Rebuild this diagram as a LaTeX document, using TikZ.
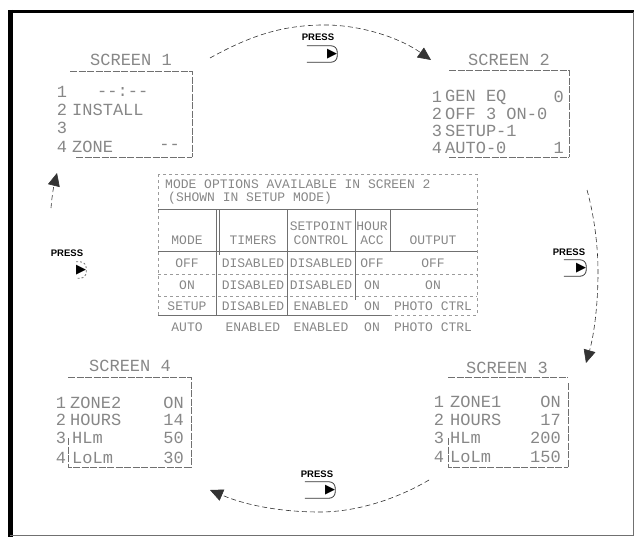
\documentclass[tikz,border=0pt]{standalone}
\usepackage{fontspec}
\usepackage{tikz}
\usetikzlibrary{arrows.meta,positioning}
\newfontfamily\lcdfont{Liberation Mono}
\newfontfamily\pressfont{Liberation Sans}
\newfontfamily\symfont{DejaVu Sans}
\definecolor{scrInk}{HTML}{878787}
\definecolor{scrLine}{HTML}{707070}
\definecolor{scrDark}{HTML}{333333}
\tikzset{
  scrtitle/.style={font=\lcdfont\fontsize{17}{17}\selectfont,text=scrInk,
                   inner sep=0pt},
  scrnum/.style={scrtitle,anchor=center},
  scrrow/.style={scrtitle,anchor=west},
  scrval/.style={scrtitle,anchor=east},
  scrline/.style={scrLine,line width=0.8pt,dash pattern=on 7pt off 1.5pt},
  tbtext/.style={font=\lcdfont\fontsize{13}{13}\selectfont,text=scrInk,
                 inner sep=0pt},
  tbtitle/.style={tbtext,font=\lcdfont\fontsize{13}{13}\selectfont,anchor=west},
  tbline/.style={scrLine,line width=0.8pt},
  tbfaint/.style={scrLine!70,line width=0.6pt,dash pattern=on 3pt off 3pt},
  presslabel/.style={font=\pressfont\bfseries\fontsize{9.5}{9.5}\selectfont,
                     inner sep=0pt},
  pressbtn/.style={font=\symfont\fontsize{13}{13}\selectfont,inner sep=0pt,
                   minimum height=16pt,align=right},
  btnline/.style={scrDark,line width=0.8pt,rounded corners=6pt},
  cycarrow/.style={-{Triangle[length=13pt,width=12pt]},line width=0.6pt,
                   dash pattern=on 5pt off 3pt,scrDark}
}
\begin{document}
\begin{tikzpicture}[x=1pt,y=-1pt]
  \useasboundingbox (0,0) rectangle (636,538);
  % frame
  \draw[line width=3.5pt] (8,11.5) -- (634,11.5);
  \draw[line width=5pt] (10,9.75) -- (10,537);
  \draw[line width=0.8pt,scrLine] (633,11.5) -- (633,535.5) -- (10,535.5);

  % screen 1
  \node[scrtitle] (s1title) at (131,60) {SCREEN 1};
  \draw[scrline] (70,71) -- (192,71) -- (192,157);
  \draw[scrline] (76,157) -- (192,157);
  \node[scrnum] (s1n1) at (62,92) {1};
  \node[scrnum] (s1n2) at (62,110) {2};
  \node[scrnum] (s1n3) at (62,128) {3};
  \node[scrnum] (s1n4) at (62,147) {4};
  \node[scrrow] (s1r1) at (97,92) {--:--};
  \node[scrrow] (s1r2) at (72,110) {INSTALL};
  \node[scrrow] (s1r4) at (72,147) {ZONE};
  \node[scrval] (s1v4) at (180,147) {--};

  % screen 2
  \node[scrtitle] (s2title) at (509,60) {SCREEN 2};
  \draw[scrline] (449,70) -- (569,70) -- (569,157);
  \draw[scrline] (449,157) -- (569,157);
  \node[scrnum] (s2n1) at (437,97) {1};
  \node[scrnum] (s2n2) at (437,114) {2};
  \node[scrnum] (s2n3) at (437,131) {3};
  \node[scrnum] (s2n4) at (437,148) {4};
  \node[scrrow] (s2r1) at (445,97) {GEN EQ};
  \node[scrrow] (s2r2) at (445,114) {OFF 3 ON-0};
  \node[scrrow] (s2r3) at (445,131) {SETUP-1};
  \node[scrrow] (s2r4) at (445,148) {AUTO-0};
  \node[scrval] (s2v1) at (564,97) {0};
  \node[scrval] (s2v4) at (564,148) {1};

  % screen 3
  \node[scrtitle] (s3title) at (507,368) {SCREEN 3};
  \draw[scrline] (448,377) -- (568,377);
  \draw[scrline] (568,383) -- (568,467);
  \draw[scrline] (448,438) -- (448,467) -- (568,467);
  \node[scrnum] (s3n1) at (439,402) {1};
  \node[scrnum] (s3n2) at (439,420) {2};
  \node[scrnum] (s3n3) at (439,438) {3};
  \node[scrnum] (s3n4) at (439,457) {4};
  \node[scrrow] (s3r1) at (450,402) {ZONE1};
  \node[scrrow] (s3r2) at (450,420) {HOURS};
  \node[scrrow] (s3r3) at (450,438) {HLm};
  \node[scrrow] (s3r4) at (450,457) {LoLm};
  \node[scrval] (s3v1) at (561,402) {ON};
  \node[scrval] (s3v2) at (561,420) {17};
  \node[scrval] (s3v3) at (561,438) {200};
  \node[scrval] (s3v4) at (561,457) {150};

  % screen 4
  \node[scrtitle] (s4title) at (130,366) {SCREEN 4};
  \draw[scrline] (68,377) -- (191,377) -- (191,467);
  \draw[scrline] (68,438) -- (68,467) -- (191,467);
  \node[scrnum] (s4n1) at (61,403) {1};
  \node[scrnum] (s4n2) at (61,420) {2};
  \node[scrnum] (s4n3) at (61,438) {3};
  \node[scrnum] (s4n4) at (61,458) {4};
  \node[scrrow] (s4r1) at (70,403) {ZONE2};
  \node[scrrow] (s4r2) at (70,420) {HOURS};
  \node[scrrow] (s4r3) at (72,438) {HLm};
  \node[scrrow] (s4r4) at (72,458) {LoLm};
  \node[scrval] (s4v1) at (184,403) {ON};
  \node[scrval] (s4v2) at (184,420) {14};
  \node[scrval] (s4v3) at (184,438) {50};
  \node[scrval] (s4v4) at (184,458) {30};

  % mode table
  \draw[tbfaint] (158,174) rectangle (477,315);
  \draw[tbline] (158,209) -- (477,209);
  \draw[tbline] (158,251) -- (477,251);
  \draw[tbfaint] (158,274) -- (477,274);
  \draw[tbfaint] (158,296) -- (477,296);
  \draw[tbline] (158,315) -- (390,315);
  \draw[tbline] (216,209) -- (216,315);
  \draw[tbline] (219,209) -- (219,255);
  \draw[tbline] (287,209) -- (287,315);
  \draw[tbline] (355,209) -- (355,300);
  \draw[tbline] (390,209) -- (390,251);
  \node[tbtitle] (tbcap1) at (165,184) {MODE OPTIONS AVAILABLE IN SCREEN 2};
  \node[tbtitle] (tbcap2) at (168,198) {(SHOWN IN SETUP MODE)};
  \node[tbtext] (hmode) at (187,240) {MODE};
  \node[tbtext] (htime) at (253,240) {TIMERS};
  \node[tbtext] (hset1) at (321,226) {SETPOINT};
  \node[tbtext] (hset2) at (321,240) {CONTROL};
  \node[tbtext] (hhour1) at (372,226) {HOUR};
  \node[tbtext] (hhour2) at (372,240) {ACC};
  \node[tbtext] (hout) at (433,240) {OUTPUT};
  \node[tbtext] (moff) at (187,263) {OFF};
  \node[tbtext] (toff) at (253,263) {DISABLED};
  \node[tbtext] (soff) at (321,263) {DISABLED};
  \node[tbtext] (aoff) at (372,263) {OFF};
  \node[tbtext] (ooff) at (433,263) {OFF};
  \node[tbtext] (mon) at (187,285) {ON};
  \node[tbtext] (ton) at (253,285) {DISABLED};
  \node[tbtext] (son) at (321,285) {DISABLED};
  \node[tbtext] (aon) at (372,285) {ON};
  \node[tbtext] (oon) at (433,285) {ON};
  \node[tbtext] (msetup) at (187,306) {SETUP};
  \node[tbtext] (tsetup) at (253,306) {DISABLED};
  \node[tbtext] (ssetup) at (321,306) {ENABLED};
  \node[tbtext] (asetup) at (372,306) {ON};
  \node[tbtext] (osetup) at (433,306) {PHOTO CTRL};
  \node[tbtext] (mauto) at (187,327) {AUTO};
  \node[tbtext] (tauto) at (253,327) {ENABLED};
  \node[tbtext] (sauto) at (321,327) {ENABLED};
  \node[tbtext] (aauto) at (372,327) {ON};
  \node[tbtext] (oauto) at (433,327) {PHOTO CTRL};

  % press buttons
  \node[presslabel] (ptop) at (318,37) {PRESS};
  \node[pressbtn,text width=30pt] (btop) at (322,54) {▶};
  \draw[btnline] (btop.north west) -- (btop.north east) -- (btop.south east)
    -- (btop.south west);
  \node[presslabel] (prgt) at (569,252) {PRESS};
  \node[pressbtn,text width=22pt] (brgt) at (575,268) {▶};
  \draw[btnline] (brgt.north west) -- (brgt.north east) -- (brgt.south east)
    -- (brgt.south west);
  \node[presslabel] (pbot) at (317,474) {PRESS};
  \node[pressbtn,text width=30pt] (bbot) at (320,490) {▶};
  \draw[btnline] (bbot.north west) -- (bbot.north east) -- (bbot.south east)
    -- (bbot.south west);
  \node[presslabel] (plft) at (67,253) {PRESS};
  \node[pressbtn,text width=20pt] (blft) at (76,270) {▶};
  \draw[btnline,scrLine,dash pattern=on 2pt off 2pt] (blft.north)
    -- (blft.north east) -- (blft.south east) -- (blft.south);

  % cycle arrows
  \coordinate (topA) at (210,58);
  \coordinate (topB) at (431,60);
  \coordinate (rgtA) at (587,190);
  \coordinate (rgtB) at (586,363);
  \coordinate (botA) at (429,480);
  \coordinate (botB) at (210,490);
  \coordinate (lftA) at (51,208);
  \coordinate (lftB) at (57,173);
  \draw[cycarrow] (topA) .. controls (255,33) and (285,26) .. (320,25)
    .. controls (360,24) and (400,38) .. (topB);
  \draw[cycarrow] (rgtA) .. controls (594,215) and (598,245) .. (598,272)
    .. controls (598,305) and (594,335) .. (rgtB);
  \draw[cycarrow] (botA) .. controls (395,500) and (355,512) .. (320,512)
    .. controls (280,512) and (245,505) .. (botB);
  \draw[cycarrow] (lftA) .. controls (52,195) and (54,185) .. (lftB);
\end{tikzpicture}
\end{document}
